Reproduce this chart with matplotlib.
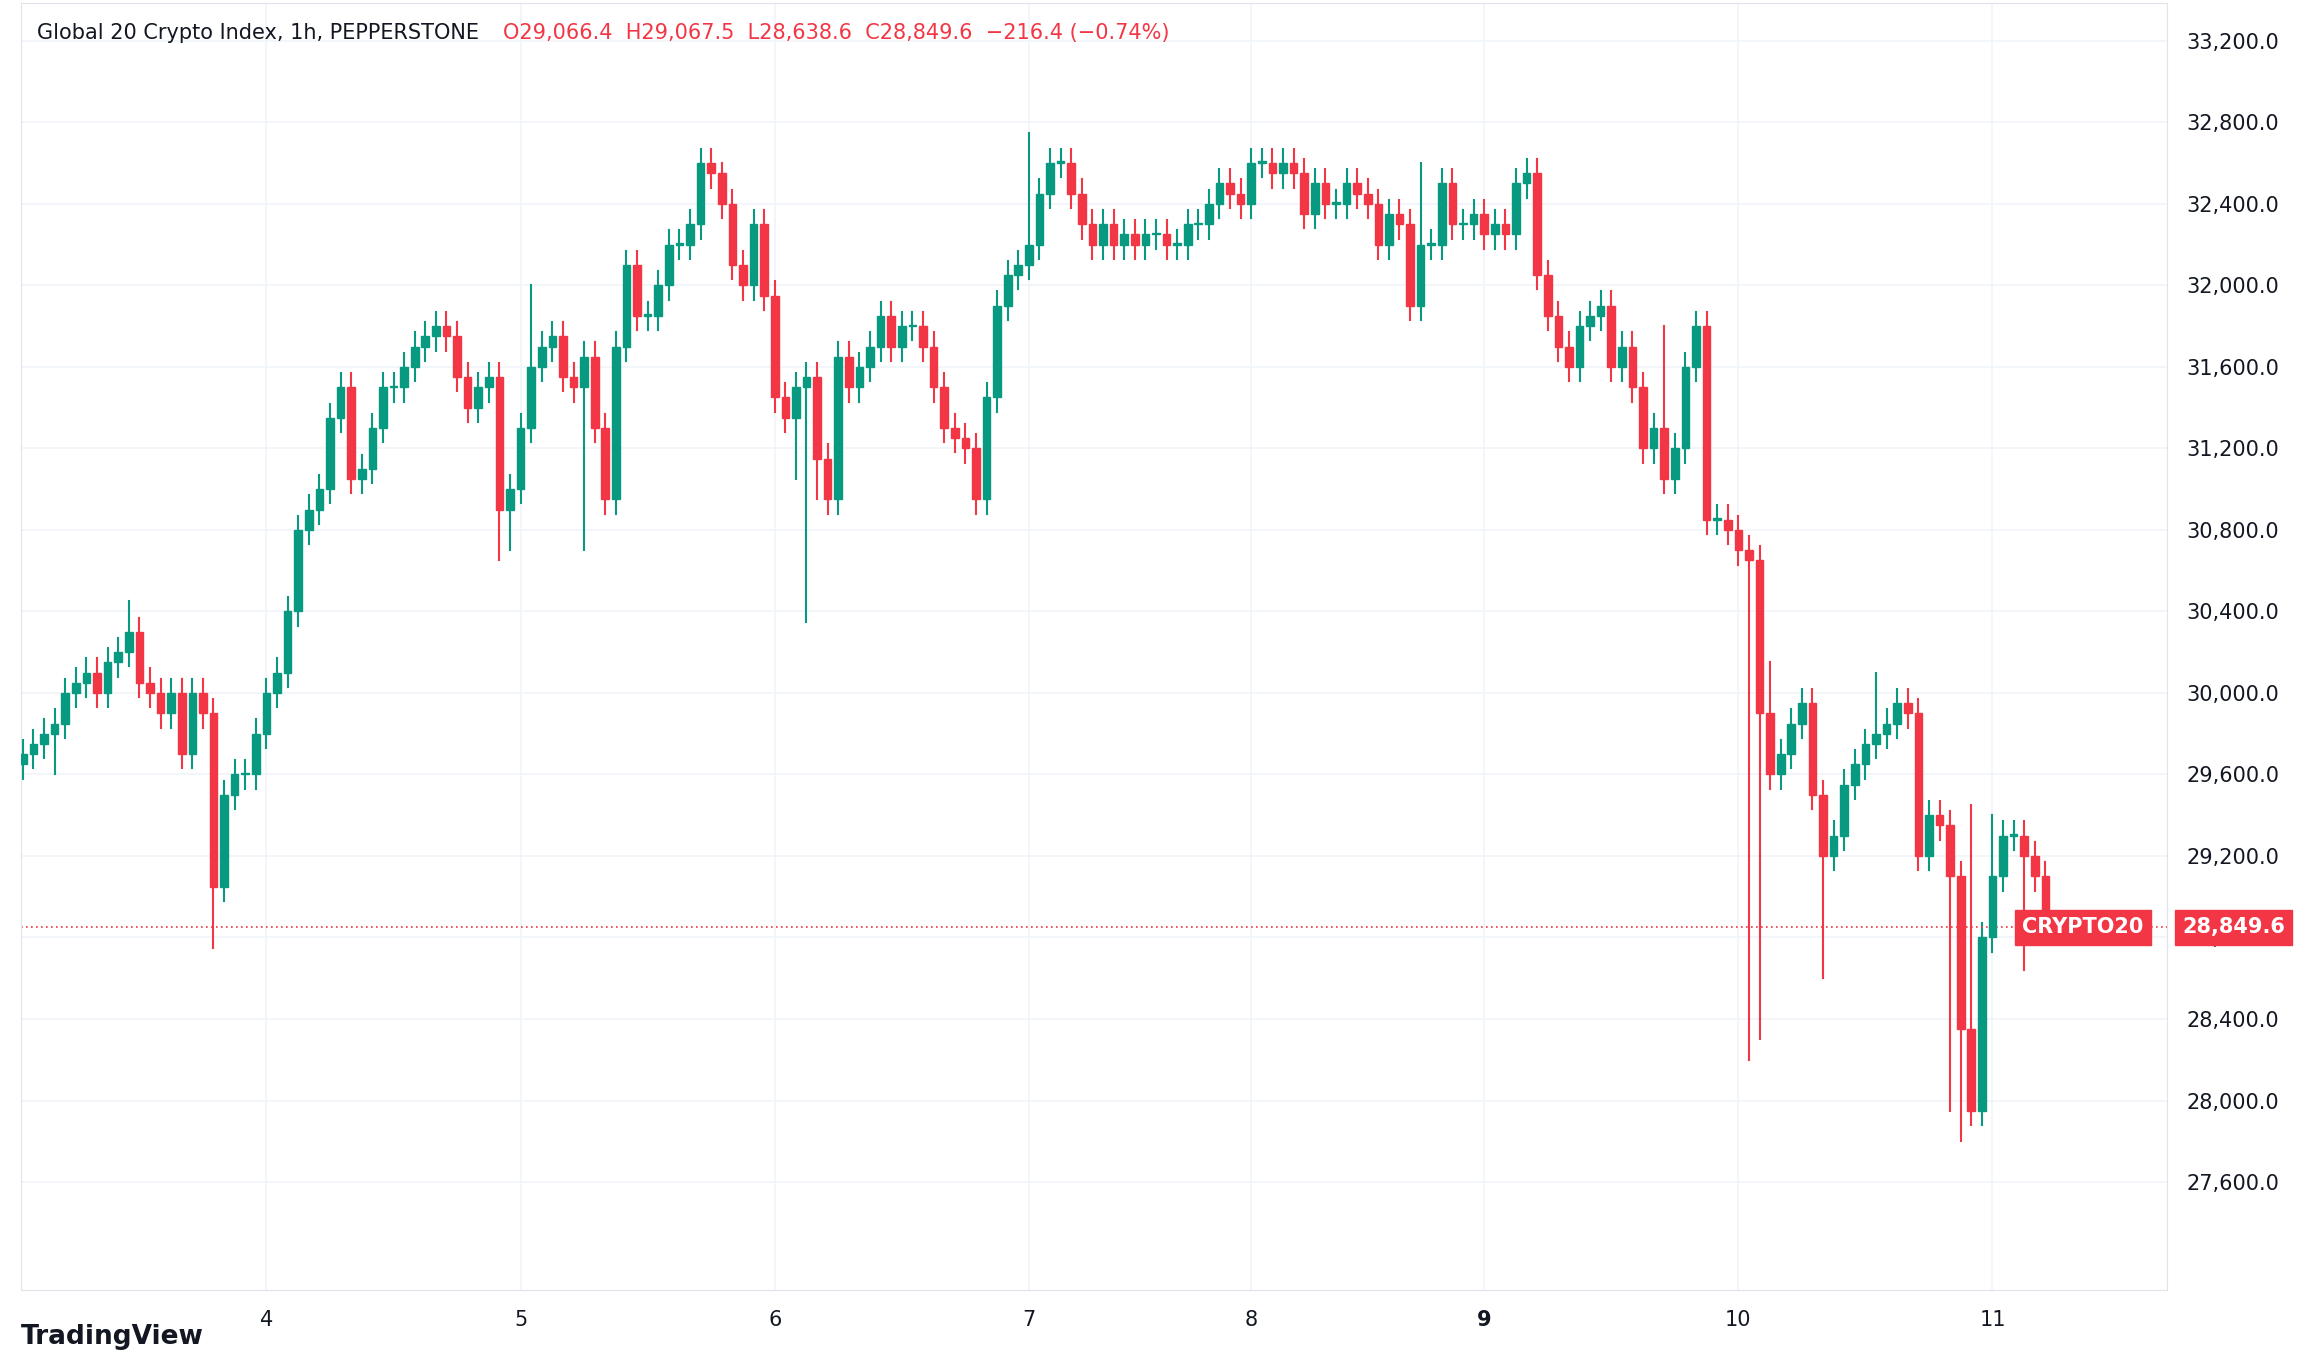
import matplotlib
matplotlib.use("Agg")
import matplotlib.pyplot as plt
from matplotlib.patches import Rectangle

first_open = 29650
closes = [
 29700,29750,29800,29850,30000,30050,30100,30000,30150,30200,30300,30050,30000,29900,30000,29700,30000,29900,29050,29500,29600,29600,29800,30000,
 30100,30400,30800,30900,31000,31350,31500,31050,31100,31300,31500,31500,31600,31700,31750,31800,31750,31550,31400,31500,31550,30900,31000,31300,
 31600,31700,31750,31550,31500,31650,31300,30950,31700,32100,31850,31850,32000,32200,32200,32300,32600,32550,32400,32100,32000,32300,31950,31450,
 31350,31500,31550,31150,30950,31650,31500,31600,31700,31850,31700,31800,31800,31700,31500,31300,31250,31200,30950,31450,31900,32050,32100,32200,
 32450,32600,32600,32450,32300,32200,32300,32200,32250,32200,32250,32250,32200,32200,32300,32300,32400,32500,32450,32400,32600,32600,
 32550,32600,32550,32350,32500,32400,32400,32500,32450,32400,32200,32350,32300,31900,32200,32200,32500,32300,32300,32350,32250,32300,
 32250,32500,32550,32050,31850,31700,31600,31800,31850,31900,31600,31700,31500,31200,31300,31050,31200,31600,31800,30850,30850,30800,
 30700,30650,29900,29600,29700,29850,29950,29500,29200,29300,29550,29650,29750,29800,29850,29950,29900,29200,29400,29350,29100,28350,27950,
 28800,29100,29300,29300,29200,29100,28849.6]
long_lows = {3: 29600, 18: 28750, 45: 30650, 46: 30700, 53: 30700, 73: 31050, 74: 30350, 75: 30950,
             163: 28200, 164: 28300, 170: 28600, 182: 27950, 183: 27800, 189: 28640}
long_highs = {10: 30450, 95: 32750, 48: 32000, 132: 32600, 66: 32600, 155: 31800, 165: 30150, 175: 30100, 184: 29450, 186: 29400}
wick = 70
day_ticks = [23, 47, 71, 95, 116, 138, 162, 186]
day_labels = ["4", "5", "6", "7", "8", "9", "10", "11"]
yticks = [27600, 28000, 28400, 28800, 29200, 29600, 30000, 30400, 30800, 31200, 31600, 32000, 32400, 32800, 33200]

GREEN, RED = "#089981", "#f23645"
fig = plt.figure(figsize=(23.08, 13.67), dpi=100)
ax = fig.add_axes([0.009, 0.056, 0.930, 0.942])
opens = [first_open] + closes[:-1]
for i, (o, c) in enumerate(zip(opens, closes)):
    col = GREEN if c >= o else RED
    hi = long_highs.get(i, max(o, c) + wick)
    lo = long_lows.get(i, min(o, c) - wick)
    ax.plot([i, i], [lo, hi], color=col, lw=1.5, zorder=2)
    ax.add_patch(Rectangle((i - 0.36, min(o, c)), 0.72, max(abs(c - o), 8), color=col, zorder=3))
ax.set_xlim(-0.2, 202.5)
ax.set_ylim(27068, 33387)
ax.yaxis.tick_right()
ax.set_yticks(yticks)
ax.set_yticklabels([f"{v:,.1f}" for v in yticks], fontsize=15, color="#131722")
ax.set_xticks(day_ticks)
ax.set_xticklabels(day_labels, fontsize=15, color="#131722")
ax.get_xticklabels()[5].set_fontweight("bold")
ax.tick_params(length=0, pad=14)
ax.grid(color="#f0f3fa", lw=1.2)
for s in ax.spines.values():
    s.set_color("#e0e3eb")
last = closes[-1]
ax.axhline(last, color=RED, ls=(0, (1, 2)), lw=1.2)
ax.text(1.007, last, f"{last:,.1f}", transform=ax.get_yaxis_transform(), fontsize=15, color="white",
        fontweight="bold", va="center", ha="left", bbox=dict(boxstyle="square,pad=0.35", fc=RED, ec=RED))
ax.text(0.989, last, "CRYPTO20", transform=ax.get_yaxis_transform(), fontsize=15, color="white",
        fontweight="bold", va="center", ha="right", bbox=dict(boxstyle="square,pad=0.35", fc=RED, ec=RED))
fig.text(0.016, 0.976, "Global 20 Crypto Index, 1h, PEPPERSTONE", fontsize=15, color="#131722", va="center")
fig.text(0.218, 0.976, "O29,066.4  H29,067.5  L28,638.6  C28,849.6  −216.4 (−0.74%)", fontsize=15, color=RED, va="center")
fig.text(0.009, 0.022, "TradingView", fontsize=19, color="#131722", va="center", fontweight="bold")
fig.savefig("out.png", dpi=100, facecolor="white")
